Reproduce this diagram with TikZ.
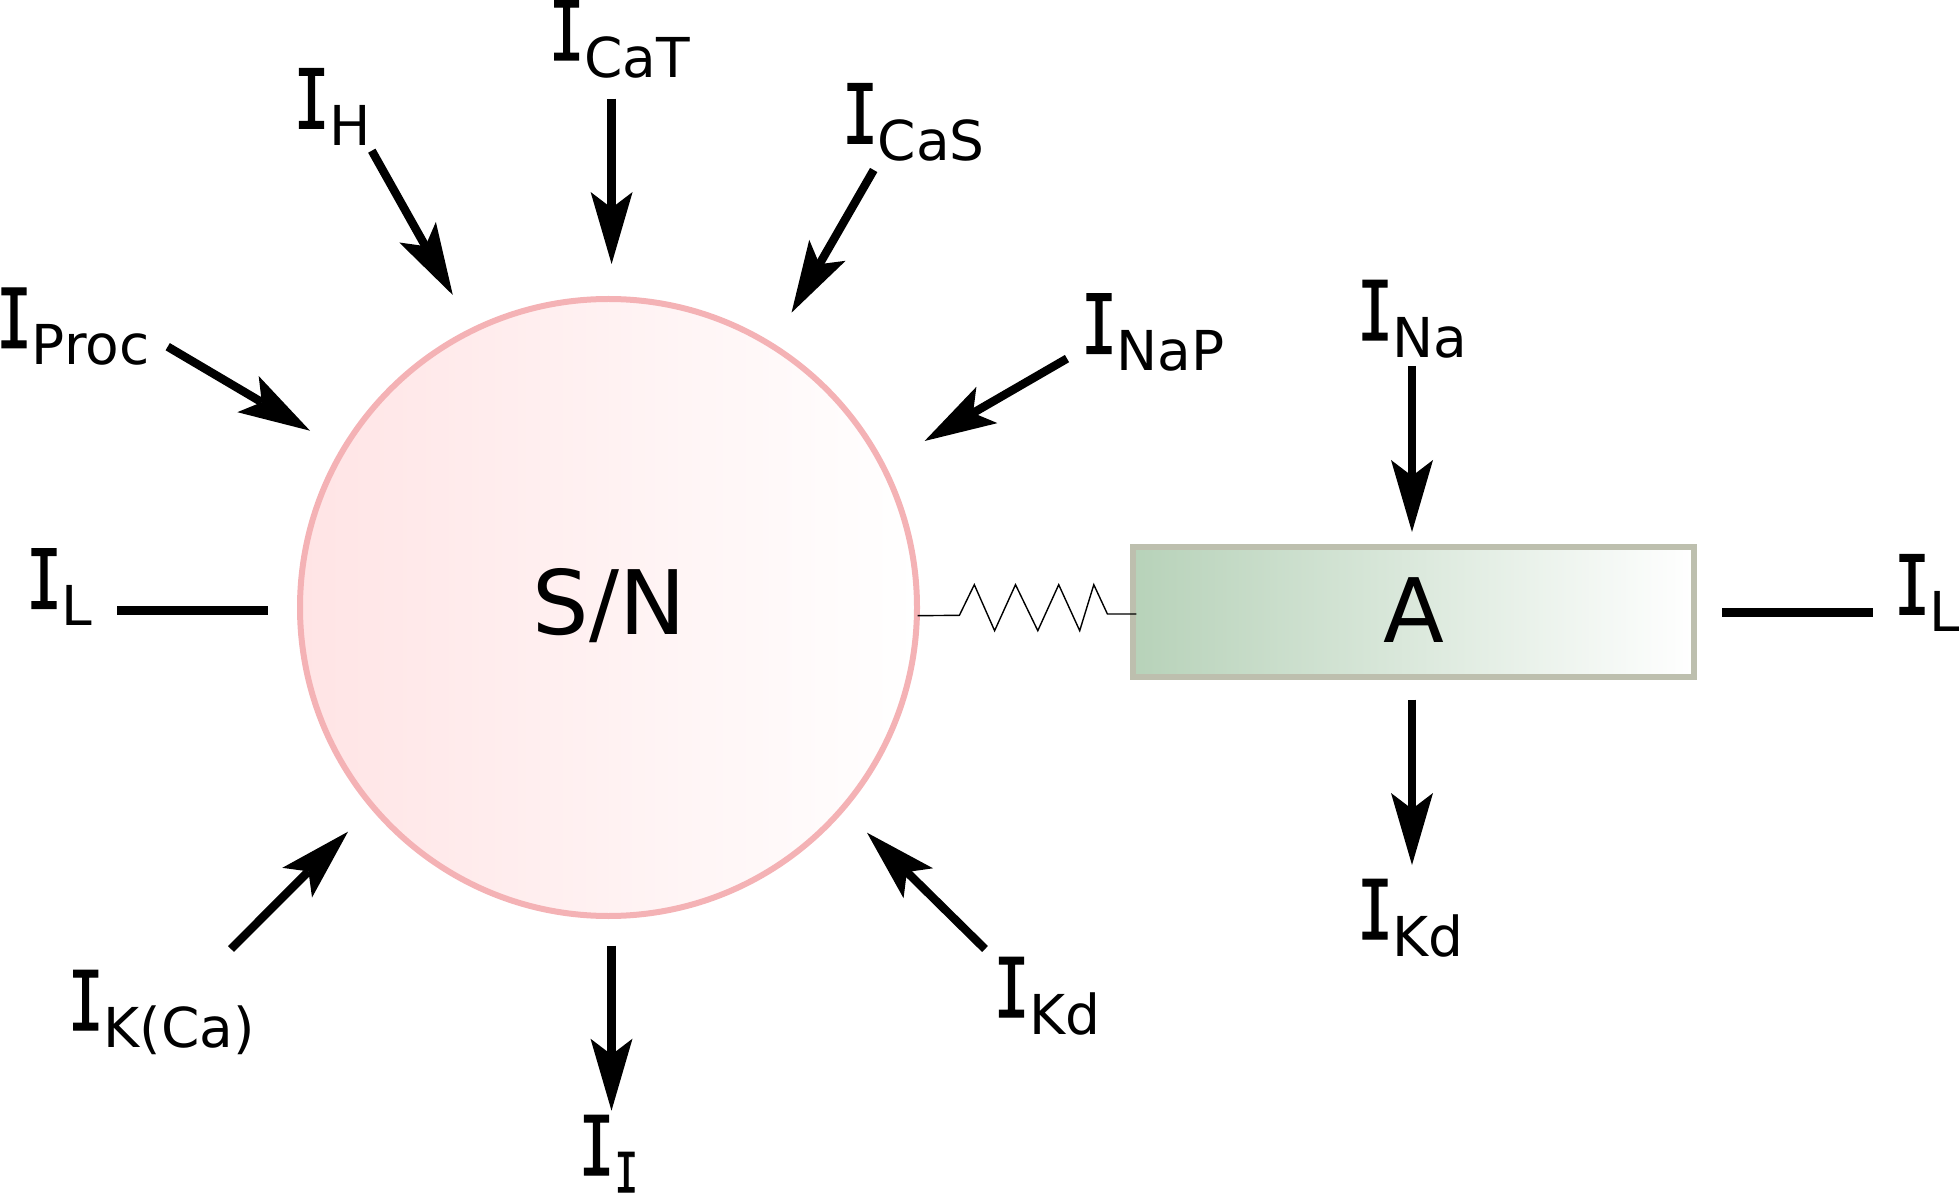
\documentclass[tikz,border=0pt]{standalone}
\usepackage{fontspec}
\setmainfont{DejaVu Sans}
\newfontfamily\curI[FakeStretch=0.72,FakeBold=1.5]{DejaVu Sans Mono}
\usetikzlibrary{arrows.meta}
\definecolor{circfill}{HTML}{FFE4E5}
\definecolor{circline}{HTML}{F4B2B5}
\definecolor{rectfill}{HTML}{B7D2B9}
\definecolor{rectline}{HTML}{BDBFAE}
\newcommand{\subsz}{\fontsize{27.5pt}{30pt}\selectfont}
\newcommand{\curr}[1]{\hspace*{-0.07em}{\curI I}\raisebox{-8.6pt}{\subsz #1}}
\newcommand{\subI}{{\curI I}}
\tikzset{
  x=0.5pt,y=-0.5pt,
  lab/.style={anchor=base west,inner sep=0pt,outer sep=0pt,font=\fontsize{41pt}{46pt}\selectfont},
  name text/.style={anchor=base,inner sep=0pt,outer sep=0pt,font=\fontsize{44.5pt}{48pt}\selectfont},
  curarrow/.style={line width=4.2pt,-{Stealth[length=36pt,width=21pt,inset=8pt,line width=0pt]}},
  leakline/.style={line width=4.5pt},
  coil/.style={line width=0.7pt,line join=miter,black},
}
\begin{document}
\begin{tikzpicture}
\useasboundingbox (0,0) rectangle (1959,1197);
% compartments
\node[circle,minimum size=308.5pt,inner sep=0pt,outer sep=0pt,draw=circline,line width=3pt,left color=circfill,right color=white] (sn) at (608.5,607.5) {};
\node[rectangle,minimum width=280.5pt,minimum height=65pt,inner sep=0pt,outer sep=0pt,draw=rectline,line width=3pt,left color=rectfill,right color=white] (ax) at (1413.5,612) {};
\node[name text] (sntext) at (609.5,634) {S/N};
\node[name text] (axtext) at (1414,642.7) {A};
% labels
\node[lab] (lcat) at (554.6,60) {\curr{CaT}};
\node[lab] (lh) at (299.5,128.3) {\curr{H}};
\node[lab] (lcas) at (848,143.3) {\curr{CaS}};
\node[lab] (lproc) at (2,347.7) {\curr{Proc}};
\node[lab] (lnap) at (1087,353.6) {\curr{NaP}};
\node[lab] (lna) at (1363,340) {\curr{Na}};
\node[lab] (lls) at (32,608.5) {\curr{L}};
\node[lab] (lla) at (1900,614.3) {\curr{L}};
\node[lab] (lkca) at (73.7,1030) {\curr{K(Ca)}};
\node[lab] (lkds) at (999.5,1017) {\curr{Kd}};
\node[lab] (lkda) at (1363,939) {\curr{Kd}};
\node[lab] (li) at (584.5,1175) {\curr{\subI}};
% arrow end points
\coordinate (a1) at (611.6,98.7);  \coordinate (b1) at (611.6,264);
\coordinate (a2) at (371.8,150.7); \coordinate (b2) at (452.8,295);
\coordinate (a3) at (873.7,170);   \coordinate (b3) at (791.5,312.7);
\coordinate (a4) at (167.7,346.7); \coordinate (b4) at (310,430.7);
\coordinate (a5) at (1067,358.6);  \coordinate (b5) at (924.6,441);
\coordinate (a6) at (1412,366);    \coordinate (b6) at (1412,532);
\coordinate (a7) at (1412,699.5);  \coordinate (b7) at (1412,865);
\coordinate (a8) at (231,949);     \coordinate (b8) at (348,831.7);
\coordinate (a9) at (985,949);     \coordinate (b9) at (867,832.7);
\coordinate (a10) at (611.5,945.7);\coordinate (b10) at (611.5,1110.7);
\foreach \i in {1,...,10}{\draw[curarrow] (a\i) -- (b\i);}
% leak lines
\coordinate (c1) at (117.4,610); \coordinate (d1) at (268,610);
\coordinate (c2) at (1722,612);  \coordinate (d2) at (1872.6,612);
\draw[leakline] (c1) -- (d1);
\draw[leakline] (c2) -- (d2);
% coupling spring
\coordinate (s0) at (917.6,615.7);
\coordinate (s1) at (1136.4,614);
\draw[coil] (s0) -- (959.4,615.3) -- (974.3,584.7) -- (994.6,630.7) -- (1015.5,584.7) -- (1037.8,630.7) -- (1058.7,584.7) -- (1079.7,630.7) -- (1093.8,584.7) -- (1107.4,614) -- (s1);
\end{tikzpicture}
\end{document}
